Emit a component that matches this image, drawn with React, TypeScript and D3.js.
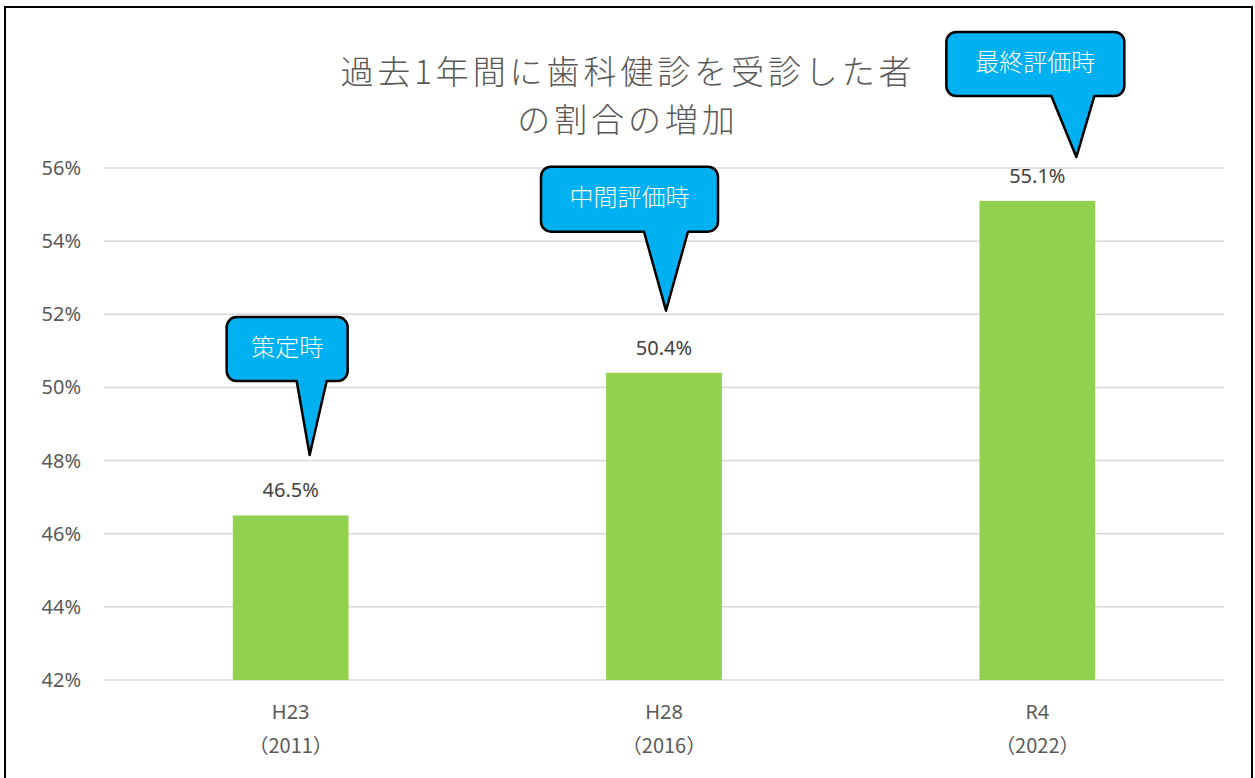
import React, { useEffect, useRef } from 'react';
import * as d3 from 'd3';

const categories = ['H23', 'H28', 'R4'];
const years = ['（2011）', '（2016）', '（2022）'];
const values = [46.5, 50.4, 55.1];
const yTicks = [42, 44, 46, 48, 50, 52, 54, 56];
const titleLines = ['過去1年間に歯科健診を受診した者', 'の割合の増加'];

// callout labels: tip given as category + value (percent), box offset in px from tip
const callouts = [
  { text: '策定時', cat: 'H23', tipDx: 19, tipValue: 48.15, boxLeft: -83, boxRight: 38, boxTop: -138, boxBottom: -74, baseL: -13, baseR: 17 },
  { text: '中間評価時', cat: 'H28', tipDx: 2, tipValue: 52.1, boxLeft: -125, boxRight: 52, boxTop: -144, boxBottom: -79, baseL: -22, baseR: 22 },
  { text: '最終評価時', cat: 'R4', tipDx: 39, tipValue: 56.3, boxLeft: -130, boxRight: 48, boxTop: -125, boxBottom: -61, baseL: -25, baseR: 18 },
];

const W = 1255;
const H = 778;
const JP = '"Noto Sans CJK JP", "Noto Sans", sans-serif';
const NUM = '"Noto Sans", "Noto Sans CJK JP", sans-serif';

const App = () => {
  const svgRef = useRef<SVGSVGElement>(null);

  useEffect(() => {
    if (!svgRef.current) return;
    const svg = d3.select(svgRef.current);
    svg.selectAll('*').remove();

    const left = 104, right = 1224, top = 168, bottom = 680;

    const x = d3.scaleBand().domain(categories).range([left, right]).paddingInner(0.69).paddingOuter(0.345);
    const y = d3.scaleLinear().domain([42, 56]).range([bottom, top]);

    // outer frame
    svg.append('rect')
      .attr('x', 5).attr('y', 7).attr('width', 1247).attr('height', 790)
      .attr('fill', '#fff').attr('stroke', '#000').attr('stroke-width', 2);

    // gridlines
    svg.append('g')
      .selectAll('line')
      .data(yTicks)
      .join('line')
      .attr('x1', left).attr('x2', right)
      .attr('y1', d => y(d)).attr('y2', d => y(d))
      .attr('stroke', '#d9d9d9').attr('stroke-width', 1.5);

    // y tick labels
    svg.append('g')
      .selectAll('text')
      .data(yTicks)
      .join('text')
      .attr('x', 81).attr('y', d => y(d))
      .attr('dy', '0.35em')
      .attr('text-anchor', 'end')
      .attr('font-family', NUM).attr('font-size', 20).attr('fill', '#595959')
      .text(d => `${d}%`);

    // bars
    svg.append('g')
      .selectAll('rect')
      .data(values)
      .join('rect')
      .attr('x', (d, i) => x(categories[i])!)
      .attr('width', x.bandwidth())
      .attr('y', d => y(d))
      .attr('height', d => bottom - y(d))
      .attr('fill', '#92D050');

    // data labels
    svg.append('g')
      .selectAll('text')
      .data(values)
      .join('text')
      .attr('x', (d, i) => x(categories[i])! + x.bandwidth() / 2)
      .attr('y', d => y(d) - 18)
      .attr('text-anchor', 'middle')
      .attr('font-family', NUM).attr('font-size', 20).attr('fill', '#404040')
      .text(d => `${d.toFixed(1)}%`);

    // x labels
    const xl = svg.append('g');
    categories.forEach((c, i) => {
      const cx = x(c)! + x.bandwidth() / 2;
      xl.append('text')
        .attr('x', cx).attr('y', 719)
        .attr('text-anchor', 'middle')
        .attr('font-family', NUM).attr('font-size', 20).attr('fill', '#595959')
        .text(c);
      xl.append('text')
        .attr('x', cx).attr('y', 753)
        .attr('text-anchor', 'middle')
        .attr('font-family', JP).attr('font-size', 20).attr('fill', '#595959')
        .text(years[i]);
    });

    // title, two lines
    svg.append('g')
      .selectAll('text')
      .data(titleLines)
      .join('text')
      .attr('x', 628)
      .attr('y', (d, i) => 83.5 + i * 48)
      .attr('text-anchor', 'middle')
      .attr('font-family', JP).attr('font-size', 33).attr('font-weight', 300)
      .attr('letter-spacing', 3.9)
      .attr('fill', '#595959')
      .text(d => d);

    // callouts
    const cg = svg.append('g');
    callouts.forEach(c => {
      const tx = x(c.cat)! + x.bandwidth() / 2 + c.tipDx;
      const ty = y(c.tipValue);
      const l = tx + c.boxLeft, r = tx + c.boxRight;
      const t = ty + c.boxTop, b = ty + c.boxBottom;
      const rr = 10;
      const p = d3.path();
      p.moveTo(l + rr, t);
      p.lineTo(r - rr, t);
      p.arcTo(r, t, r, t + rr, rr);
      p.lineTo(r, b - rr);
      p.arcTo(r, b, r - rr, b, rr);
      p.lineTo(tx + c.baseR, b);
      p.lineTo(tx, ty);
      p.lineTo(tx + c.baseL, b);
      p.lineTo(l + rr, b);
      p.arcTo(l, b, l, b - rr, rr);
      p.lineTo(l, t + rr);
      p.arcTo(l, t, l + rr, t, rr);
      p.closePath();
      cg.append('path')
        .attr('d', p.toString())
        .attr('fill', '#00B0F0')
        .attr('stroke', '#000')
        .attr('stroke-width', 2.5)
        .attr('stroke-linejoin', 'round');
      cg.append('text')
        .attr('x', (l + r) / 2)
        .attr('y', (t + b) / 2 - 2)
        .attr('dy', '0.38em')
        .attr('text-anchor', 'middle')
        .attr('font-family', JP).attr('font-size', 24).attr('font-weight', 300).attr('fill', '#fff')
        .text(c.text);
    });
  }, []);

  return (
    <svg
      ref={svgRef}
      width={W}
      height={H}
      style={{ position: 'absolute', left: 0, top: 0, display: 'block', background: '#fff' }}
    />
  );
};

export default App;
